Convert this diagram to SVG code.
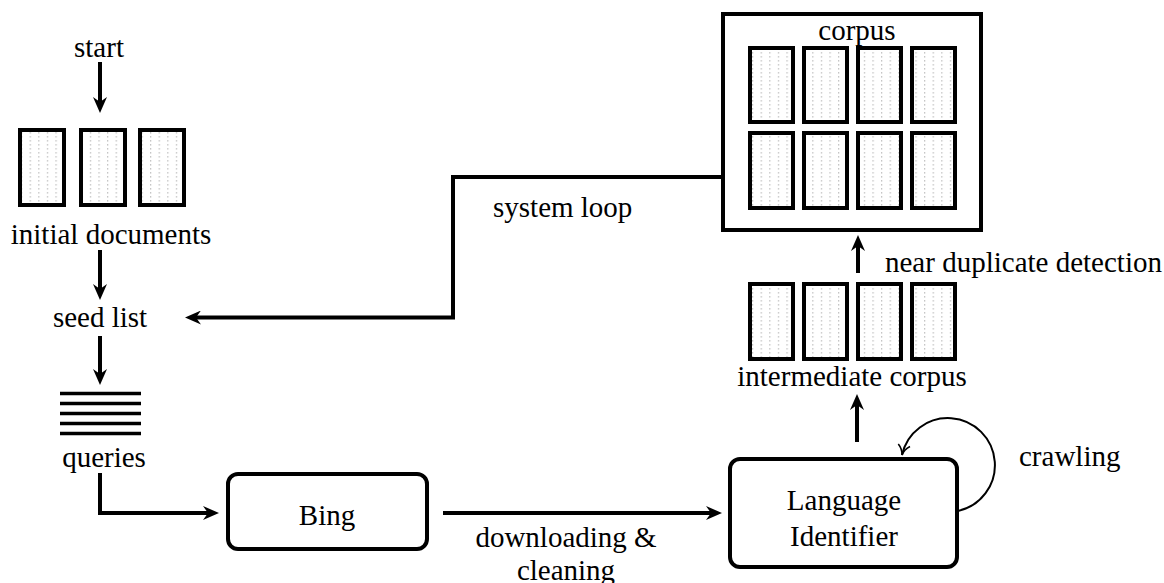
<svg xmlns="http://www.w3.org/2000/svg" width="1164" height="583" viewBox="0 0 1164 583">
  <style>
    text { font-family: "Liberation Serif", "Times New Roman", serif; font-size: 29px; fill: #000; }
    .mid { text-anchor: middle; }
    .doc { fill: url(#dots); stroke: #000; stroke-width: 4; }
    .docin { fill: none; stroke: #ccc; stroke-width: 1; }
    .box { fill: #fff; stroke: #000; stroke-width: 4; }
    .edge { fill: none; stroke: #000; stroke-width: 4; marker-end: url(#arr); }
    .line { fill: none; stroke: #000; stroke-width: 4; }
    .thin { fill: none; stroke: #000; stroke-width: 2; marker-end: url(#open); }
    .q { stroke: #000; stroke-width: 3.5; }
  </style>
  <defs>
    <pattern id="dots" patternUnits="userSpaceOnUse" width="8.6" height="4">
      <rect width="8.6" height="4" fill="#fff"/>
      <rect x="4" y="0" width="1" height="1.6" fill="#b8b8b8"/>
    </pattern>
    <marker id="arr" viewBox="0 0 16 14" refX="8" refY="7" markerWidth="16" markerHeight="14" markerUnits="userSpaceOnUse" orient="auto">
      <path d="M0,0 L16,7 L0,14 L5,7 Z" fill="#000"/>
    </marker>
    <marker id="open" viewBox="0 0 14 14" refX="12" refY="7" markerWidth="14" markerHeight="14" markerUnits="userSpaceOnUse" orient="auto">
      <path d="M2,1 Q6,6 12,7 Q6,8 2,13" fill="none" stroke="#000" stroke-width="1.6"/>
    </marker>
  </defs>
  <rect width="1164" height="583" fill="#fff"/>

  <g id="connectors">
    <line class="edge" x1="100" y1="62" x2="100" y2="105"/>
    <line class="edge" x1="100" y1="250" x2="100" y2="292"/>
    <line class="edge" x1="100" y1="336" x2="100" y2="377"/>
    <polyline class="edge" points="100,473 100,513 211,513"/>
    <line class="edge" x1="443" y1="513" x2="714" y2="513"/>
    <line class="edge" x1="857" y1="442" x2="857" y2="402"/>
    <line class="edge" x1="858" y1="273" x2="858" y2="243"/>
    <polyline class="edge" points="723,177 453,177 453,317.5 193,317.5"/>
    <path class="thin" d="M958,511 A47,47 0 1 0 902,455"/>
    <text x="493" y="217">system loop</text>
    <text class="mid" x="566" y="547">downloading &amp;</text>
    <text class="mid" x="566" y="580">cleaning</text>
    <text x="885" y="272">near duplicate detection</text>
    <text x="1019" y="466">crawling</text>
  </g>

  <g id="start">
    <text class="mid" x="99" y="57">start</text>
  </g>

  <g id="initial-documents">
    <rect class="doc" x="20" y="130" width="44" height="75"/>
    <rect class="doc" x="81" y="130" width="44" height="75"/>
    <rect class="doc" x="140" y="130" width="44" height="75"/>
    <text class="mid" x="111" y="244">initial documents</text>
  </g>

  <g id="seed-list">
    <text class="mid" x="100" y="327">seed list</text>
  </g>

  <g id="queries">
    <line class="q" x1="60" y1="393.5" x2="141" y2="393.5"/>
    <line class="q" x1="60" y1="403.5" x2="141" y2="403.5"/>
    <line class="q" x1="60" y1="413.5" x2="141" y2="413.5"/>
    <line class="q" x1="60" y1="423.5" x2="141" y2="423.5"/>
    <line class="q" x1="60" y1="433.5" x2="141" y2="433.5"/>
    <text class="mid" x="104" y="467">queries</text>
  </g>

  <g id="bing">
    <rect class="box" x="228" y="474" width="199" height="75" rx="10"/>
    <text class="mid" x="327" y="525">Bing</text>
  </g>

  <g id="language-identifier">
    <rect class="box" x="730" y="459" width="227" height="108" rx="10"/>
    <text class="mid" x="844" y="510">Language</text>
    <text class="mid" x="844" y="546">Identifier</text>
  </g>

  <g id="intermediate-corpus">
    <rect class="doc" x="750" y="284" width="43" height="75"/>
    <rect class="doc" x="804" y="284" width="43" height="75"/>
    <rect class="doc" x="858" y="284" width="43" height="75"/>
    <rect class="doc" x="912" y="284" width="43" height="75"/>
    <text class="mid" x="852" y="386">intermediate corpus</text>
  </g>

  <g id="corpus">
    <rect class="box" x="723" y="14" width="258" height="216"/>
    <text class="mid" x="857" y="40">corpus</text>
    <rect class="doc" x="750" y="48" width="43" height="74"/>
    <rect class="doc" x="804" y="48" width="43" height="74"/>
    <rect class="doc" x="858" y="48" width="43" height="74"/>
    <rect class="doc" x="912" y="48" width="43" height="74"/>
    <rect class="doc" x="750" y="133" width="43" height="75"/>
    <rect class="doc" x="804" y="133" width="43" height="75"/>
    <rect class="doc" x="858" y="133" width="43" height="75"/>
    <rect class="doc" x="912" y="133" width="43" height="75"/>
  </g>
</svg>
